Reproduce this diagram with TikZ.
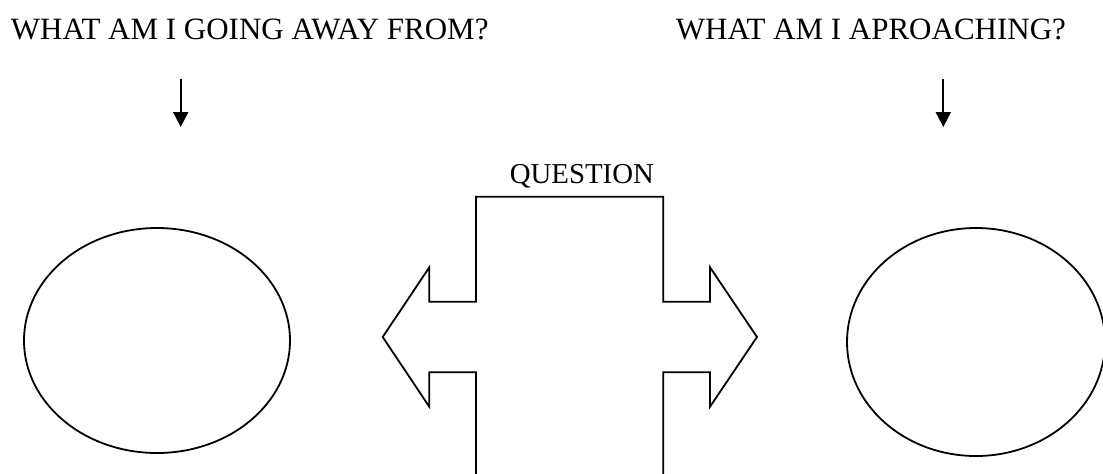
\documentclass[tikz,border=0pt]{standalone}
\usepackage{fontspec}
\setmainfont{Liberation Serif}
\usetikzlibrary{arrows.meta,shapes.geometric}

\begin{document}
\begin{tikzpicture}[x=0.5pt,y=-0.5pt,line cap=butt,line join=miter,
  every path/.style={line width=0.9pt},
  heading/.style={anchor=base west,inner sep=0pt,font=\fontsize{15.5}{18}\selectfont},
  oval/.style={draw,ellipse,inner sep=0pt,line width=0.9pt},
  pointer/.style={-{Triangle[width=7.5pt,length=7.5pt]}}]
\useasboundingbox (0,0) rectangle (1103,473);
% headings
\node[heading] (away) at (10,39.5) {WHAT AM I GOING AWAY FROM?};
\node[heading] (near) at (675,39.5) {WHAT AM I APROACHING?};
% pointers down to the ovals
\coordinate (awaytop) at (180.7,79); \coordinate (awaytip) at (180.7,127);
\coordinate (neartop) at (943.3,79); \coordinate (neartip) at (943.3,127);
\draw[pointer] (awaytop) -- (awaytip);
\draw[pointer] (neartop) -- (neartip);
% ovals
\node[oval,minimum width=133pt,minimum height=112.5pt] (past) at (157,340.5) {};
\node[oval,minimum width=129pt,minimum height=114pt] (future) at (976,342) {};
% question cross, open at the bottom
\draw (476,474) -- (476,372.3) -- (429.3,372.3) -- (429.3,406.7) -- (382.7,337)
  -- (429.3,267.3) -- (429.3,301.7) -- (476,301.7) -- (476,196.7) -- (663.3,196.7)
  -- (663.3,301.7) -- (710,301.7) -- (710,267.3) -- (757,337) -- (710,406.7)
  -- (710,372.3) -- (663.3,372.3) -- (663.3,474);
\node[anchor=base west,inner sep=0pt,font=\fontsize{14.4}{17}\selectfont] (question) at (509,183) {QUESTION};
\end{tikzpicture}
\end{document}
